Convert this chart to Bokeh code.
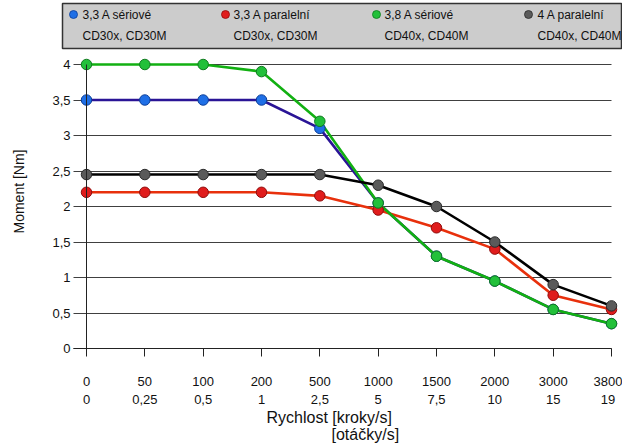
import math
from bokeh.plotting import figure
from bokeh.models import Range1d, FixedTicker, LinearAxis
from bokeh.embed import file_html
from bokeh.resources import INLINE
from bokeh.core.properties import value

# ---- data ----
speed_steps = ["0", "50", "100", "200", "500", "1000", "1500", "2000", "3000", "3800"]
speed_revs = ["0", "0,25", "0,5", "1", "2,5", "5", "7,5", "10", "15", "19"]

torque_33_serial = [3.5, 3.5, 3.5, 3.5, 3.1, 2.05, 1.3, 0.95, 0.55, 0.35]
torque_33_parallel = [2.2, 2.2, 2.2, 2.2, 2.15, 1.95, 1.7, 1.4, 0.75, 0.55]
torque_38_serial = [4.0, 4.0, 4.0, 3.9, 3.2, 2.05, 1.3, 0.95, 0.55, 0.35]
torque_4_parallel = [2.45, 2.45, 2.45, 2.45, 2.45, 2.3, 2.0, 1.5, 0.9, 0.6]

series_line1 = ["3,3 A sériové", "3,3 A paralelní", "3,8 A sériové", "4 A paralelní"]
series_line2 = ["CD30x, CD30M", "CD30x, CD30M", "CD40x, CD40M", "CD40x, CD40M"]

y_ticks = [0, 0.5, 1, 1.5, 2, 2.5, 3, 3.5, 4]
y_tick_labels = ["0", "0,5", "1", "1,5", "2", "2,5", "3", "3,5", "4"]

y_title = "Moment [Nm]"
x_title_1 = "Rychlost [kroky/s]"
x_title_2 = "[otáčky/s]"

# ---- styles / layout (pixels) ----
FONT = "Liberation Sans"
TXT = "#111111"
line_colors = ["#2a1496", "#e8300c", "#12b012", "#000000"]
marker_fill = ["#1f6fe6", "#e01c1c", "#22c03a", "#5a5a5a"]
marker_line = ["#0d3f99", "#8f0c0c", "#0f7a1e", "#2a2a2a"]
series = [torque_33_serial, torque_33_parallel, torque_38_serial, torque_4_parallel]

xs = list(range(len(speed_steps)))

FIG_W, FIG_H = 622, 446
X0_PX, X9_PX = 86, 611          # px of first / last category
Y0_PX, Y4_PX = 348, 64          # px of y=0 / y=4
PPU_X = (X9_PX - X0_PX) / (len(xs) - 1)
PPU_Y = (Y0_PX - Y4_PX) / 4.0


def px2x(px):
    return (px - X0_PX) / PPU_X


def px2y(py):
    return (Y0_PX - py) / PPU_Y


AXIS_LEFT = px2x(73)

p = figure(width=FIG_W, height=FIG_H, output_backend="svg", toolbar_location=None,
           x_range=Range1d(px2x(0), px2x(FIG_W)), y_range=Range1d(px2y(FIG_H), px2y(0)),
           min_border=0, min_border_left=0, min_border_right=0,
           min_border_top=0, min_border_bottom=0,
           x_axis_location=None, y_axis_location=None)
p.outline_line_color = None
p.xgrid.visible = False
p.ygrid.ticker = FixedTicker(ticks=y_ticks)
p.ygrid.grid_line_color = "#404040"
p.ygrid.grid_line_width = 1
p.ygrid.cross_bounds = (AXIS_LEFT, xs[-1])

# x axis at y = 0
xa = LinearAxis(fixed_location=0, bounds=(AXIS_LEFT, xs[-1]), ticker=FixedTicker(ticks=xs),
                major_label_overrides={i: f"{a}\n{b}" for i, (a, b) in enumerate(zip(speed_steps, speed_revs))},
                minor_tick_line_color=None, major_tick_in=0, major_tick_out=8,
                major_tick_line_color="#222222", axis_line_color="#222222",
                major_label_standoff=17, major_label_text_font=FONT,
                major_label_text_font_size="13px", major_label_text_color=TXT)
p.add_layout(xa, "below")

# y tick labels, anchored at the left end of the grid lines
ya = LinearAxis(fixed_location=AXIS_LEFT, ticker=FixedTicker(ticks=y_ticks),
                major_label_overrides={t: s for t, s in zip(y_ticks, y_tick_labels)},
                axis_line_color=None, major_tick_line_color=None, minor_tick_line_color=None,
                major_tick_in=0, major_tick_out=0, major_label_standoff=3,
                major_label_text_font=FONT, major_label_text_font_size="13px",
                major_label_text_color=TXT)
p.add_layout(ya, "left")

# y-axis line at x = 0
yline = LinearAxis(fixed_location=0, bounds=(0, 4), ticker=FixedTicker(ticks=y_ticks),
                   major_tick_line_color=None, minor_tick_line_color=None,
                   major_label_text_color=None, axis_line_color="#222222")
p.add_layout(yline, "left")

# axis titles
p.text([px2x(18)], [px2y(191)], text=[y_title], angle=math.pi / 2, text_font=value(FONT),
       text_font_size="14px", text_align="center", text_baseline="middle", text_color=TXT)
p.text([px2x(266)], [px2y(417)], text=[x_title_1], text_font=value(FONT),
       text_font_size="16px", text_align="left", text_baseline="middle", text_color=TXT)
p.text([px2x(331)], [px2y(434)], text=[x_title_2], text_font=value(FONT),
       text_font_size="16px", text_align="left", text_baseline="middle", text_color=TXT)

# series
for s, lc in zip(series, line_colors):
    p.line(xs, s, line_color=lc, line_width=2.6)
for s, fc, mc in zip(series, marker_fill, marker_line):
    p.scatter(xs, s, size=10.5, fill_color=fc, line_color=mc, line_width=1)

# legend box (positioned in pixels, converted to data space)
p.quad(left=px2x(62), right=px2x(621), bottom=px2y(48), top=px2y(3),
       fill_color="#cccccc", line_color="#333333", line_width=1.5)
marker_px = [73, 225, 376, 528]
text_px = [82, 233, 384, 537]
lx_m = [px2x(v) for v in marker_px]
lx_t = [px2x(v) for v in text_px]
p.scatter(lx_m, [px2y(14)] * 4, size=8, fill_color=marker_fill, line_color=marker_line, line_width=0.8)
p.text(lx_t, [px2y(14)] * 4, text=series_line1, text_font=value(FONT), text_font_size="12px",
       text_baseline="middle", text_align="left", text_color=TXT)
p.text(lx_t, [px2y(35)] * 4, text=series_line2, text_font=value(FONT), text_font_size="12px",
       text_baseline="middle", text_align="left", text_color=TXT)

open("out.html", "w").write(file_html(p, INLINE))
